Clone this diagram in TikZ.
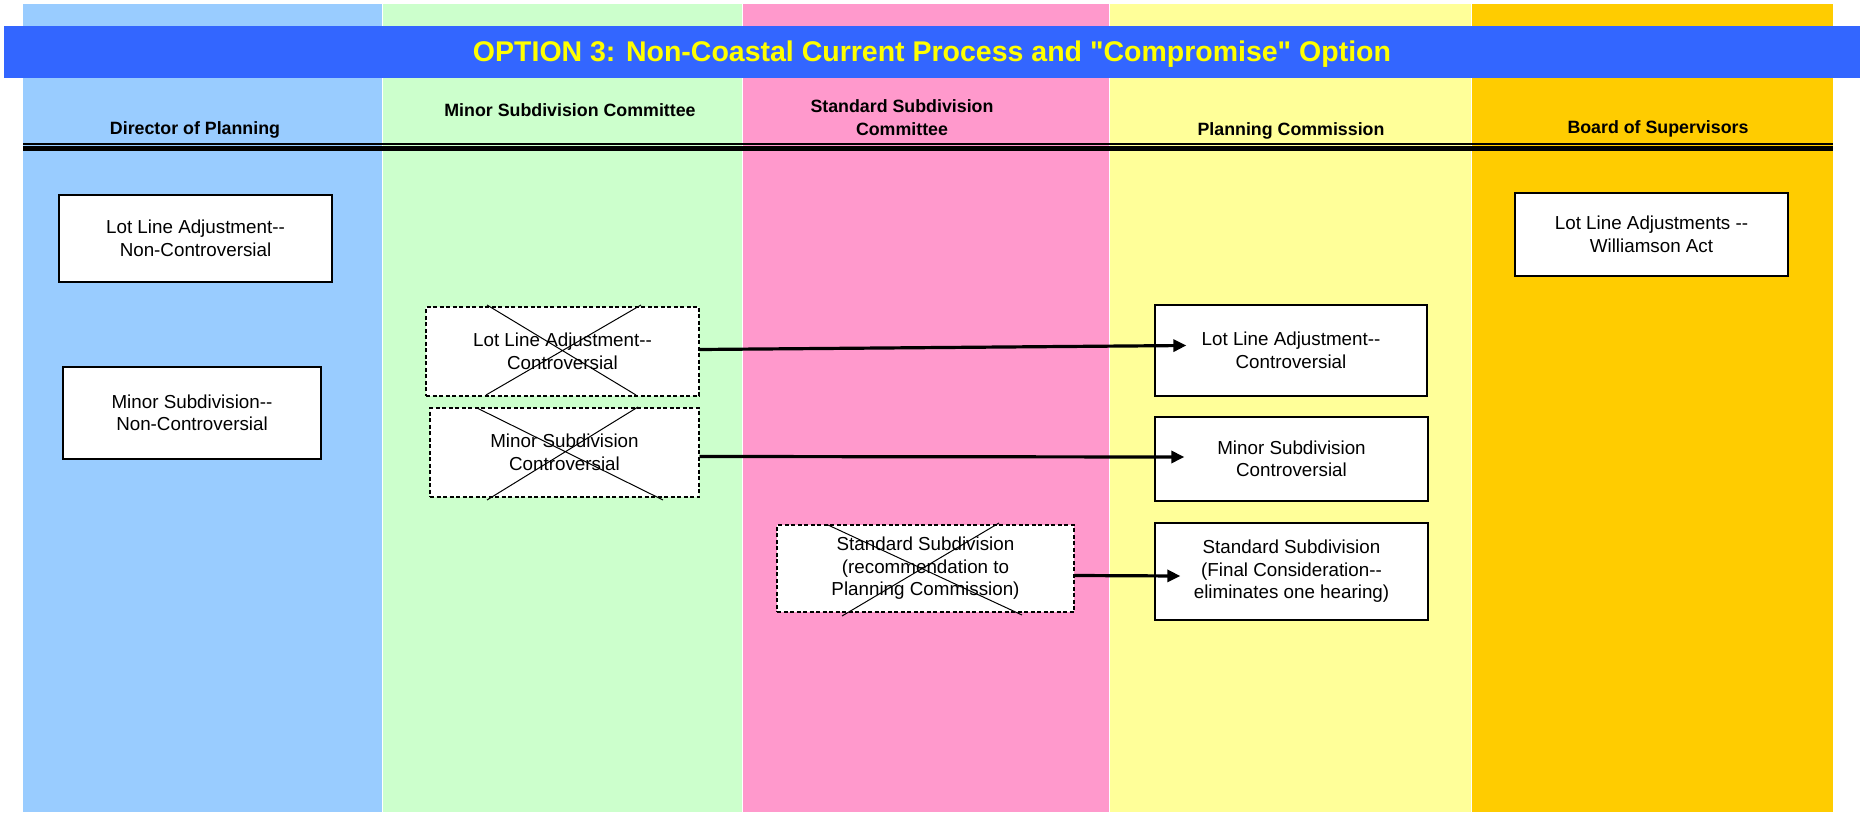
\documentclass[tikz,border=0pt]{standalone}
\usepackage{fontspec}
\setmainfont{Liberation Sans}[Ligatures=TeXOff]
\usetikzlibrary{arrows.meta}
\definecolor{laneA}{HTML}{99CCFF}
\definecolor{laneB}{HTML}{CCFFCC}
\definecolor{laneC}{HTML}{FF99CC}
\definecolor{laneD}{HTML}{FFFF99}
\definecolor{laneE}{HTML}{FFCC00}
\definecolor{titlebar}{HTML}{3366FF}
\definecolor{titletext}{HTML}{FFFF00}
\begin{document}
\begin{tikzpicture}
[x=1pt, y=-1pt, line join=miter, >={Triangle[length=13pt,width=12pt]},
 box/.style={draw, fill=white, line width=1.3pt, align=center, inner sep=0pt,
   font=\fontsize{18.8}{22.5}\selectfont},
 xbox/.style={box, dash pattern=on 4pt off 2.5pt, line width=1.1pt},
 lanehead/.style={align=center, font=\bfseries\fontsize{17.8}{23}\selectfont},
 flow/.style={->, line width=3.2pt}]
\useasboundingbox (0,0) rectangle (1860,813);
% swim lanes
\foreach \a/\b/\c in {23/382/laneA,382/742/laneB,742/1109/laneC,1109/1471/laneD,1471/1833/laneE}
\fill[\c] (\a,4) rectangle (\b,812);
\foreach \a in {382,742,1109,1471}
\draw[white, line width=1pt] (\a,4) -- (\a,812);
% title
\fill[titlebar] (4,26) rectangle (1860,78);
\node[text=titletext, font=\bfseries\fontsize{28.5}{34}\selectfont] (title) at (932,54)
{OPTION 3: Non-Coastal Current Process and "Compromise" Option};
% lane heads
\node[lanehead] (hdA) at (195,130) {Director of Planning};
\node[lanehead] (hdB) at (570,110) {Minor Subdivision Committee};
\node[lanehead] (hdC) at (902,118) {Standard Subdivision\\Committee};
\node[lanehead] (hdD) at (1291,131) {Planning Commission};
\node[lanehead] (hdE) at (1658,129) {Board of Supervisors};
\draw[line width=1.3pt] (23,144) -- (1833,144);
\draw[line width=5pt] (23,149) -- (1833,149);
% steps
\node[box, minimum width=273pt, minimum height=87pt] (dopA) at (195.5,238.5)
{Lot Line Adjustment--\\Non-Controversial};
\node[box, minimum width=258pt, minimum height=92pt] (dopB) at (192,413)
{Minor Subdivision--\\Non-Controversial};
\node[xbox, minimum width=273pt, minimum height=89pt] (mscA) at (562.5,351.5)
{Lot Line Adjustment--\\Controversial};
\node[xbox, minimum width=269pt, minimum height=89pt] (mscB) at (564.5,452.5)
{Minor Subdivision\\Controversial};
\node[xbox, minimum width=297pt, minimum height=87pt] (sscA) at (925.5,568.5)
{Standard Subdivision\\(recommendation to\\Planning Commission)};
\node[box, minimum width=272pt, minimum height=91pt] (pcA) at (1291,350.5)
{Lot Line Adjustment--\\Controversial};
\node[box, minimum width=273pt, minimum height=84pt] (pcB) at (1291.5,459)
{Minor Subdivision\\Controversial};
\node[box, minimum width=273pt, minimum height=97pt] (pcC) at (1291.5,571.5)
{Standard Subdivision\\(Final Consideration--\\eliminates one hearing)};
\node[box, minimum width=273pt, minimum height=83pt] (bosA) at (1651.5,234.5)
{Lot Line Adjustments --\\Williamson Act};
% crossed out
\draw[line width=1pt] (487,305) -- (636,395) (641,305) -- (486,395);
\draw[line width=1pt] (477,408) -- (663,500) (638,407) -- (487,500);
\draw[line width=1pt] (828,525) -- (1022,615) (999,523) -- (842,616);
% moves
\draw[flow] ([yshift=2pt]mscA.east) -- ([xshift=32pt,yshift=5pt]pcA.west);
\draw[flow] ([yshift=-4pt]mscB.east) -- ([xshift=30pt,yshift=2pt]pcB.west);
\draw[flow] ([yshift=-7pt]sscA.east) -- ([xshift=26pt,yshift=-4.5pt]pcC.west);
\end{tikzpicture}
\end{document}
